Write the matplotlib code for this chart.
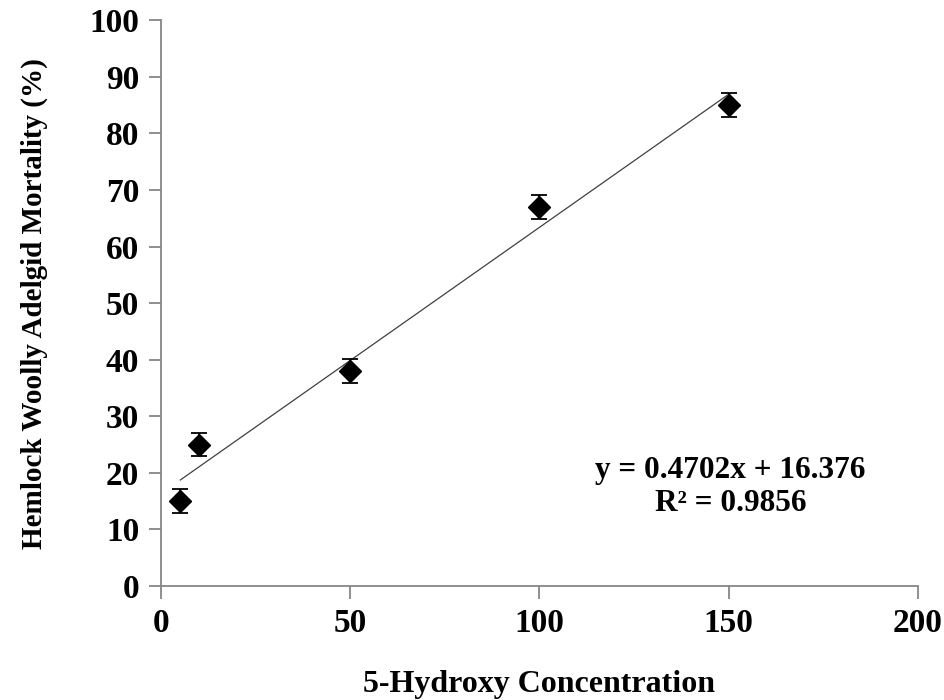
import matplotlib.pyplot as plt
import numpy as np

plt.rcParams['font.family'] = ['Liberation Serif', 'DejaVu Serif']
plt.rcParams['font.weight'] = 'bold'

conc = [5, 10, 50, 100, 150]
mortality = [15, 25, 38, 67, 85]
err = [2.1, 2.1, 2.1, 2.1, 2.1]
slope = 0.4702
intercept = 16.376
r2 = 0.9856

fig = plt.figure(figsize=(9.44, 7), dpi=100)
ax = fig.add_axes([0.171, 0.163, 0.801, 0.808])

# trend line over the data range
xs = np.array([min(conc), max(conc)])
ax.plot(xs, slope * xs + intercept, color='#404040', lw=0.9, zorder=2)

ax.errorbar(conc, mortality, yerr=err, fmt='D', color='black', ms=11.5,
            ecolor='black', elinewidth=1.3, capsize=6, capthick=1.3, zorder=3)

ax.set_xlim(0, 200)
ax.set_ylim(0, 100)
ax.set_xticks([0, 50, 100, 150, 200])
ax.set_yticks(range(0, 101, 10))

for s in ['top', 'right']:
    ax.spines[s].set_visible(False)
for s in ['left', 'bottom']:
    ax.spines[s].set_color('#868686')
    ax.spines[s].set_linewidth(1.3)
ax.tick_params(direction='out', length=9, width=1.3, color='#868686',
               labelsize=24, pad=7)
for lab in ax.get_xticklabels() + ax.get_yticklabels():
    lab.set_fontweight('bold')

ax.set_xlabel('5-Hydroxy Concentration', fontsize=23, fontweight='bold', labelpad=22)
ax.set_ylabel('Hemlock Woolly Adelgid Mortality (%)', fontsize=21,
              fontweight='bold', labelpad=30)

ax.text(150.5, 17.5, f'y = {slope}x + {intercept}\nR² = {r2}', ha='center',
        va='center', fontsize=22.5, fontweight='bold', linespacing=1.2)

fig.savefig('out.png', dpi=100)
